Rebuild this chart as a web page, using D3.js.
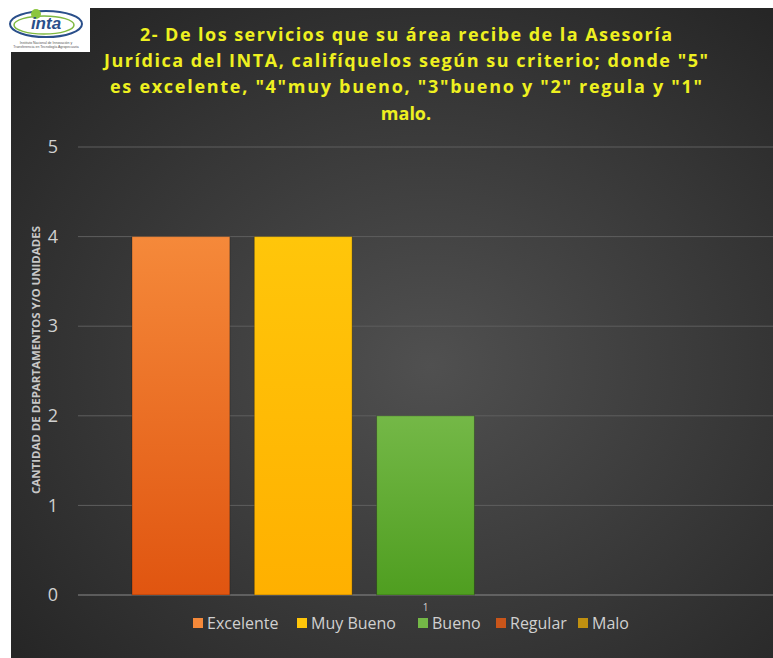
<!DOCTYPE html>
<html><head><meta charset="utf-8">
<script src="https://cdn.jsdelivr.net/npm/d3@7"></script>
<style>body{margin:0;background:#fff}svg{display:block}</style>
</head><body>
<script>
const categories = ["1"];
const seriesNames = ["Excelente", "Muy Bueno", "Bueno", "Regular", "Malo"];
const seriesValues = [4, 4, 2, 0, 0];
const yTicks = [0, 1, 2, 3, 4, 5];
const titleLines = [
  "2- De los servicios que su área recibe de la Asesoría",
  "Jurídica del INTA, califíquelos según su criterio; donde \"5\"",
  "es excelente, \"4\"muy bueno, \"3\"bueno y \"2\" regula y \"1\"",
  "malo."
];
const yLabel = "CANTIDAD DE DEPARTAMENTOS Y/O UNIDADES";
const colorsTop = ["#f5893a", "#ffc60a", "#74b847", "#c9551a", "#c09010"];
const colorsBot = ["#e05510", "#ffb000", "#4f9e20", "#b54210", "#a87800"];

const W = 773, H = 658;
const svg = d3.select("body").append("svg").attr("width", W).attr("height", H);
const defs = svg.append("defs");
const bg = defs.append("radialGradient").attr("id","bg").attr("cx","55%").attr("cy","55%").attr("r","70%");
bg.append("stop").attr("offset","0%").attr("stop-color","#505050");
bg.append("stop").attr("offset","100%").attr("stop-color","#262626");
seriesNames.forEach((s,i)=>{
  const g = defs.append("linearGradient").attr("id","g"+i).attr("x1",0).attr("y1",0).attr("x2",0).attr("y2",1);
  g.append("stop").attr("offset","0%").attr("stop-color",colorsTop[i]);
  g.append("stop").attr("offset","100%").attr("stop-color",colorsBot[i]);
});

svg.append("rect").attr("x",11).attr("y",8).attr("width",W-11).attr("height",H-8).attr("fill","url(#bg)");

// logo area
const logo = svg.append("g");
logo.append("rect").attr("x",0).attr("y",0).attr("width",90).attr("height",52).attr("fill","#fff");
logo.append("ellipse").attr("cx",46).attr("cy",24).attr("rx",36).attr("ry",13).attr("fill","none").attr("stroke","#2a4f8a").attr("stroke-width",2);
logo.append("ellipse").attr("cx",44).attr("cy",25).attr("rx",30).attr("ry",9).attr("fill","none").attr("stroke","#7fb940").attr("stroke-width",1.5);
logo.append("circle").attr("cx",36).attr("cy",14).attr("r",5).attr("fill","#8cc63f");
logo.append("text").attr("x",46).attr("y",29).attr("text-anchor","middle").attr("font-family","Liberation Sans, sans-serif").attr("font-weight","bold").attr("font-style","italic").attr("font-size",17).attr("fill","#2a4f8a").text("inta");
logo.append("text").attr("x",46).attr("y",44).attr("text-anchor","middle").attr("font-family","Liberation Sans").attr("font-size",3.5).attr("fill","#555").text("Instituto Nacional de Innovación y");
logo.append("text").attr("x",46).attr("y",48).attr("text-anchor","middle").attr("font-family","Liberation Sans").attr("font-size",3.5).attr("fill","#555").text("Transferencia en Tecnología Agropecuaria");

const x0 = 78, x1 = 773, yTop = 147, yBot = 595;
const y = d3.scaleLinear().domain([0,5]).range([yBot, yTop]);
const xc = d3.scaleBand().domain(categories).range([x0, x1]).paddingInner(0).paddingOuter(0.092);
const xs = d3.scaleBand().domain(seriesNames).range([0, xc.bandwidth()]).paddingInner(0.2);

// gridlines
svg.append("g").selectAll("line").data(yTicks).join("line")
  .attr("x1",x0).attr("x2",x1).attr("y1",d=>y(d)).attr("y2",d=>y(d))
  .attr("stroke",d=>d===0?"#8a8a8a":"#5e5e5e").attr("stroke-width",1);

// y tick labels
const yAxis = d3.axisLeft(y).tickValues(yTicks).tickFormat(d3.format("d")).tickSize(0).tickPadding(0);
const ya = svg.append("g").attr("transform",`translate(58,0)`).call(yAxis);
ya.select(".domain").remove();
ya.selectAll("text").attr("font-family","Open Sans, sans-serif").attr("font-size",18).attr("fill","#d0d0d0");

// bars
const cat = svg.append("g").selectAll("g").data(categories).join("g").attr("transform",d=>`translate(${xc(d)},0)`);
cat.selectAll("rect").data(seriesNames.map((s,i)=>({s,i,v:seriesValues[i]}))).join("rect")
  .attr("x",d=>xs(d.s)).attr("width",xs.bandwidth())
  .attr("y",d=>y(d.v)).attr("height",d=>y(0)-y(d.v))
  .attr("fill",d=>`url(#g${d.i})`)
  .attr("stroke","rgba(0,0,0,0.25)").attr("stroke-width",1);

// category label
svg.append("g").selectAll("text").data(categories).join("text")
  .attr("x",d=>xc(d)+xc.bandwidth()/2).attr("y",611).attr("text-anchor","middle")
  .attr("font-family","Open Sans, sans-serif").attr("font-size",10).attr("fill","#d0d0d0").text(d=>d);

// title
const tw = [532, 604, 592, null];
const ty = [41, 67, 93, 120];
svg.append("g").selectAll("text").data(titleLines).join("text")
  .attr("x",406).attr("y",(d,i)=>ty[i]).attr("text-anchor","middle")
  .attr("font-family","Open Sans, sans-serif").attr("font-weight","bold").attr("font-size",18)
  .attr("fill","#eef020")
  .each(function(d,i){ if(tw[i]) d3.select(this).attr("textLength",tw[i]).attr("lengthAdjust","spacing"); })
  .text(d=>d);

// y label
svg.append("text").attr("transform","translate(40,360) rotate(-90)").attr("text-anchor","middle")
  .attr("font-family","Open Sans, sans-serif").attr("font-weight","bold").attr("font-size",10.5)
  .attr("fill","#c8c8c8").attr("textLength",268).attr("lengthAdjust","spacingAndGlyphs").text(yLabel);

// legend
const legX = [193, 297, 418, 496, 578];
const leg = svg.append("g").selectAll("g").data(seriesNames).join("g").attr("transform",(d,i)=>`translate(${legX[i]},623)`);
leg.append("rect").attr("x",0).attr("y",-5).attr("width",10).attr("height",10).attr("fill",(d,i)=>colorsTop[i]);
leg.append("text").attr("x",14).attr("y",6).attr("font-family","Open Sans, sans-serif").attr("font-size",16).attr("fill","#d0d0d0").text(d=>d);
</script>
</body></html>
